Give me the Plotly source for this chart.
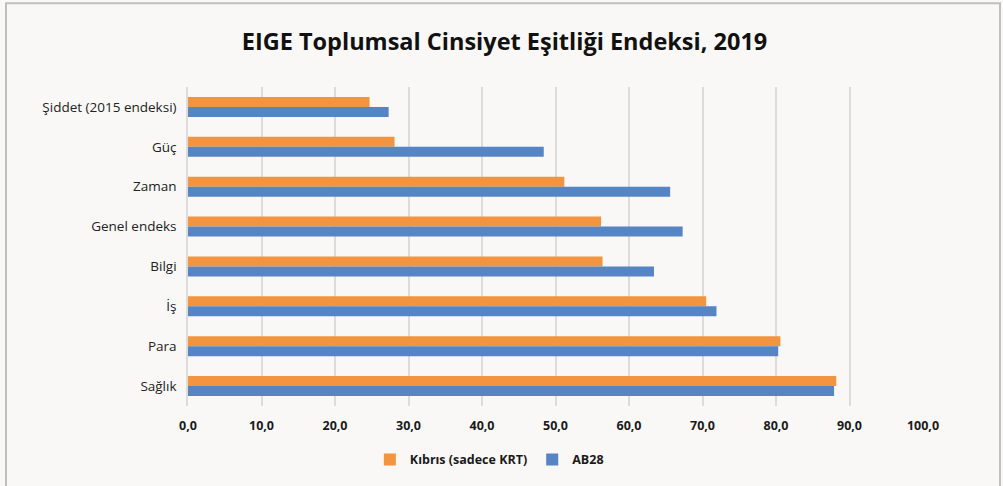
import plotly.graph_objects as go

categories = ["Şiddet (2015 endeksi)", "Güç", "Zaman", "Genel endeks", "Bilgi", "İş", "Para", "Sağlık"]
kibris = [24.7, 28.1, 51.2, 56.2, 56.4, 70.5, 80.6, 88.2]
ab28 = [27.3, 48.4, 65.6, 67.3, 63.4, 71.9, 80.3, 87.9]
x_ticks = [0, 10, 20, 30, 40, 50, 60, 70, 80, 90, 100]
x_tick_labels = ["0,0", "10,0", "20,0", "30,0", "40,0", "50,0", "60,0", "70,0", "80,0", "90,0", "100,0"]

FONT = "Open Sans"
fig = go.Figure()
fig.add_trace(go.Bar(y=categories, x=kibris, orientation="h", name="Kıbrıs (sadece KRT)",
                     marker=dict(color="#F39441", line=dict(width=0))))
fig.add_trace(go.Bar(y=categories, x=ab28, orientation="h", name="AB28",
                     marker=dict(color="#5585C5", line=dict(width=0))))

fig.update_layout(
    width=1003, height=486,
    barmode="group", bargap=0.5, bargroupgap=0,
    paper_bgcolor="#F9F8F6", plot_bgcolor="#F9F8F6",
    margin=dict(l=188, r=80, t=87, b=79),
    title=dict(text="<b>EIGE Toplumsal Cinsiyet Eşitliği Endeksi, 2019</b>",
               x=0.503, xanchor="center", y=0.915, yanchor="middle",
               font=dict(family=FONT, size=23.5, color="#111111")),
    font=dict(family=FONT, color="#222222"),
    legend=dict(orientation="h", x=0.41, xanchor="center", y=-0.165, yanchor="middle",
                font=dict(family=FONT, size=12.5, color="#1a1a1a", weight="bold"),
                traceorder="normal", bgcolor="rgba(0,0,0,0)"),
    xaxis=dict(range=[0, 100], tickvals=x_ticks, ticktext=x_tick_labels,
               showgrid=True, gridcolor="#DCDCDC", gridwidth=1.5, zeroline=False,
               showline=False, ticks="", ticklabelstandoff=10,
               tickfont=dict(family=FONT, size=12.5, color="#1a1a1a", weight="bold")),
    yaxis=dict(autorange="reversed", showgrid=False, zeroline=False,
               showline=True, linecolor="#DCDCDC", linewidth=1.5, ticks="",
               ticklabelstandoff=7,
               tickfont=dict(family=FONT, size=13.5, color="#222222")),
    shapes=[dict(type="rect", xref="paper", yref="paper",
                 x0=-182/735, x1=812/735, y0=-82/320, y1=404/320,
                 line=dict(color="#BFBFBF", width=2), fillcolor="rgba(0,0,0,0)", layer="below")],
)
fig.write_html("out.html", config={"displayModeBar": False},
               post_script="document.body.style.margin='0';")
